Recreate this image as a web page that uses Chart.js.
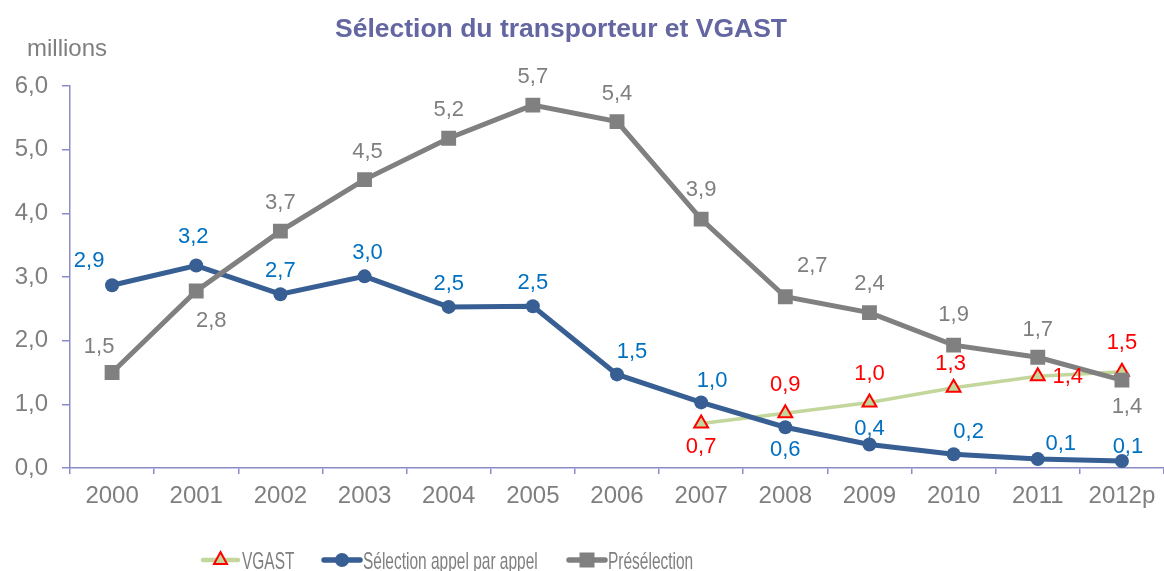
<!DOCTYPE html>
<html>
<head>
<meta charset="utf-8">
<script src="https://cdn.jsdelivr.net/npm/chart.js@4"></script>
<style>
  html, body { margin: 0; padding: 0; background: #fff; }
  #wrap { width: 1164px; height: 571px; position: relative; }
</style>
</head>
<body>
<div id="wrap"><canvas id="chart" width="1164" height="571"></canvas></div>
<script>
const years = ["2000", "2001", "2002", "2003", "2004", "2005", "2006", "2007", "2008", "2009", "2010", "2011", "2012p"];
const vgast = [null, null, null, null, null, null, null, 0.70, 0.86, 1.03, 1.26, 1.44, 1.51];
const selection = [2.87, 3.18, 2.73, 3.01, 2.53, 2.54, 1.47, 1.03, 0.64, 0.37, 0.215, 0.14, 0.11];
const preselection = [1.50, 2.78, 3.72, 4.53, 5.18, 5.70, 5.44, 3.91, 2.69, 2.44, 1.93, 1.74, 1.38];
const yTicks = [0, 1, 2, 3, 4, 5, 6];

const FONT = '"Liberation Sans", Arial, sans-serif';
const AXIS = "#8b8cc7";
const GREY = "#7f7f7f";
const fr = (v) => v.toFixed(1).replace(".", ",");

// where each value label sits relative to its point (dx, dy)
const labelOffsets = {
  0: [null, null, null, null, null, null, null, [0, 24], [0, -28], [0, -28], [-3, -24], [30, 1], [0, -29]],
  1: [[-23, -24], [-3, -29], [0, -23], [3, -23], [0, -23], [0, -23], [15, -22], [11, -21], [0, 23], [0, -16], [15, -22], [23, -15], [6, -14]],
  2: [[-13, -26], [15, 30], [0, -28], [3, -28], [0, -28], [0, -28], [0, -28], [0, -29], [27, -31], [0, -29], [0, -30], [0, -27], [5, 27]],
};
const labelColors = ["#ff0000", "#0070c0", GREY];

const valueLabels = {
  id: "valueLabels",
  afterDatasetsDraw(chart) {
    const ctx = chart.ctx;
    ctx.save();
    ctx.font = "22px " + FONT;
    ctx.textAlign = "center";
    ctx.textBaseline = "middle";
    chart.data.datasets.forEach((ds, i) => {
      const meta = chart.getDatasetMeta(i);
      meta.data.forEach((pt, j) => {
        const v = ds.data[j];
        if (v == null) return;
        const off = labelOffsets[i][j];
        ctx.fillStyle = labelColors[i];
        ctx.fillText(fr(v), pt.x + off[0], pt.y + off[1]);
      });
    });
    ctx.restore();
  },
};

function legendMarker(ctx, kind, x, y) {
  ctx.beginPath();
  if (kind === "tri") {
    ctx.moveTo(x, y - 8);
    ctx.lineTo(x + 6.5, y + 4);
    ctx.lineTo(x - 6.5, y + 4);
    ctx.closePath();
    ctx.fillStyle = "#c3d69b";
    ctx.fill();
    ctx.lineWidth = 2;
    ctx.strokeStyle = "#ff0000";
    ctx.stroke();
  } else if (kind === "circle") {
    ctx.arc(x, y, 7, 0, Math.PI * 2);
    ctx.fillStyle = "#375f93";
    ctx.fill();
  } else {
    ctx.fillStyle = "#808080";
    ctx.fillRect(x - 7.5, y - 7.5, 15, 15);
  }
}

const decor = {
  id: "decor",
  afterDraw(chart) {
    const ctx = chart.ctx;
    ctx.save();
    ctx.fillStyle = "#6466a2";
    ctx.font = "bold 26.5px " + FONT;
    ctx.textAlign = "center";
    ctx.textBaseline = "alphabetic";
    ctx.fillText("Sélection du transporteur et VGAST", 561, 37);

    ctx.fillStyle = GREY;
    ctx.font = "24px " + FONT;
    ctx.textAlign = "left";
    ctx.fillText("millions", 27, 56);

    const items = [
      { text: "VGAST", color: "#c3d69b", width: 4.5, kind: "tri", x0: 203, x1: 238, tx: 242 },
      { text: "Sélection appel par appel", color: "#375f93", width: 5.5, kind: "circle", x0: 324, x1: 360, tx: 363 },
      { text: "Présélection", color: "#808080", width: 5.5, kind: "rect", x0: 569, x1: 605, tx: 608 },
    ];
    const ly = 560;
    items.forEach((it) => {
      ctx.beginPath();
      ctx.moveTo(it.x0, ly);
      ctx.lineTo(it.x1, ly);
      ctx.lineWidth = it.width;
      ctx.strokeStyle = it.color;
      ctx.lineCap = "round";
      ctx.stroke();
      legendMarker(ctx, it.kind, (it.x0 + it.x1) / 2, ly);
      ctx.save();
      ctx.translate(it.tx, 569);
      ctx.scale(0.645, 1);
      ctx.fillStyle = GREY;
      ctx.font = "24px " + FONT;
      ctx.textAlign = "left";
      ctx.fillText(it.text, 0, 0);
      ctx.restore();
    });
    ctx.restore();
  },
};

new Chart(document.getElementById("chart"), {
  type: "line",
  data: {
    labels: years,
    datasets: [
      {
        label: "VGAST", data: vgast, order: 2,
        borderColor: "#c3d69b", borderWidth: 3.5,
        pointStyle: "triangle", pointRadius: 8, pointBorderWidth: 2,
        pointBorderColor: "#ff0000", pointBackgroundColor: "#c3d69b",
        tension: 0, spanGaps: false,
      },
      {
        label: "Sélection appel par appel", data: selection, order: 1,
        borderColor: "#375f93", borderWidth: 5,
        pointStyle: "circle", pointRadius: 7, pointBorderWidth: 0,
        pointBackgroundColor: "#375f93", tension: 0,
      },
      {
        label: "Présélection", data: preselection, order: 0,
        borderColor: "#808080", borderWidth: 5,
        pointStyle: "rect", pointRadius: 10.5, pointBorderWidth: 0,
        pointBackgroundColor: "#808080", tension: 0,
      },
    ],
  },
  options: {
    responsive: false,
    animation: false,
    events: [],
    layout: { autoPadding: false, padding: { top: 86, right: 0, left: 0, bottom: 0 } },
    plugins: { legend: { display: false }, title: { display: false }, tooltip: { enabled: false } },
    scales: {
      x: {
        offset: true,
        grid: { display: true, offset: true, drawOnChartArea: false, drawTicks: true, tickLength: 6, color: AXIS, lineWidth: 1.5 },
        border: { display: true, color: AXIS, width: 1.5 },
        ticks: { color: GREY, font: { size: 24, family: FONT }, padding: 8, maxRotation: 0, autoSkip: false },
        afterFit: (s) => { s.height = 103; s.paddingLeft = 0; s.paddingRight = 0; },
      },
      y: {
        min: yTicks[0], max: yTicks[yTicks.length - 1],
        afterBuildTicks: (s) => { s.ticks = yTicks.map((v) => ({ value: v })); },
        grid: { display: true, drawOnChartArea: false, drawTicks: true, tickLength: 8, color: AXIS, lineWidth: 1.5 },
        border: { display: true, color: AXIS, width: 1.5 },
        ticks: { color: GREY, font: { size: 24, family: FONT }, padding: 14, callback: (v) => fr(v) },
        afterFit: (s) => { s.width = 70; s.paddingTop = 0; s.paddingBottom = 0; },
      },
    },
  },
  plugins: [valueLabels, decor],
});
</script>
</body>
</html>
